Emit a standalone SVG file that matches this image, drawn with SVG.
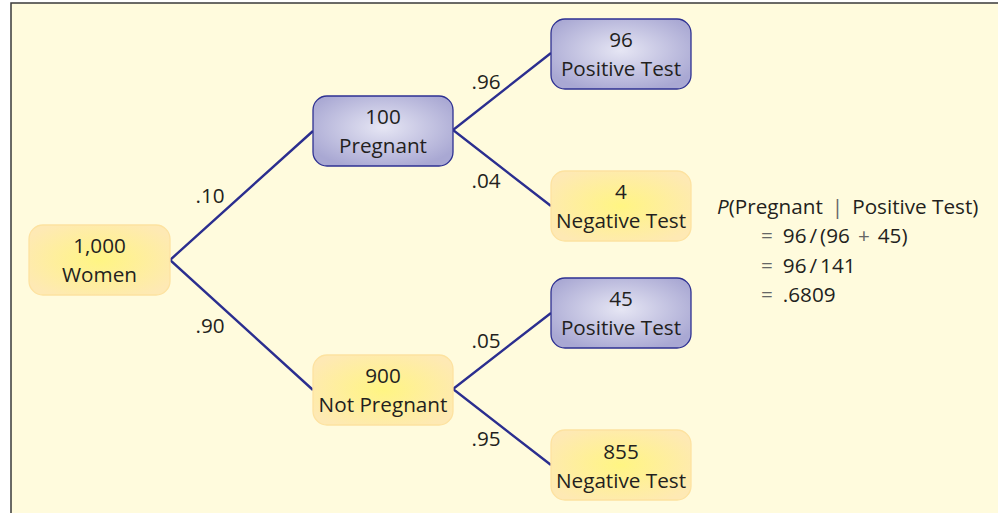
<svg xmlns="http://www.w3.org/2000/svg" width="998" height="513" viewBox="0 0 998 513">
<defs>
<radialGradient id="gBlue" cx="50%" cy="45%" r="60%">
<stop offset="0" stop-color="#e6e6f4"/>
<stop offset="1" stop-color="#a9a8d3"/>
</radialGradient>
<radialGradient id="gYel" cx="50%" cy="50%" r="60%">
<stop offset="0" stop-color="#fff583"/>
<stop offset="1" stop-color="#fee9b4"/>
</radialGradient>
<style>
.t{font-family:"Open Sans","Noto Sans",sans-serif;font-size:20.7px;fill:#231f20;}
.c{text-anchor:middle;}
.blue{fill:url(#gBlue);stroke:#2e3192;stroke-width:1.3;}
.yel{fill:url(#gYel);stroke:#fde2a0;stroke-width:1.3;}
.ln{stroke:#2b2e8f;stroke-width:2.4;fill:none;}
.op{fill:#666;}
</style>
</defs>
<rect x="0" y="0" width="998" height="513" fill="#ffffff"/>
<rect x="11" y="3" width="990" height="515" fill="#fffbdd" stroke="#3a3a3a" stroke-width="1.5"/>
<g id="connectors">
<polyline class="ln" points="313,131 170,260 313,390"/>
<polyline class="ln" points="551,53 453,130 551,206"/>
<polyline class="ln" points="551,313 453,389 551,465"/>
</g>
<g id="probabilities" class="t">
<text x="210" y="203" class="c">.10</text>
<text x="210" y="333" class="c">.90</text>
<text x="486" y="89" class="c">.96</text>
<text x="486" y="188" class="c">.04</text>
<text x="486" y="348" class="c">.05</text>
<text x="486" y="446" class="c">.95</text>
</g>
<g id="women">
<rect class="yel" x="29" y="225" width="141" height="70" rx="14"/>
<text class="t c" x="99.5" y="253">1,000</text>
<text class="t c" x="99.5" y="282">Women</text>
</g>
<g id="pregnant">
<rect class="blue" x="313" y="96" width="140" height="70" rx="14"/>
<text class="t c" x="383" y="124">100</text>
<text class="t c" x="383" y="153">Pregnant</text>
</g>
<g id="notpregnant">
<rect class="yel" x="313" y="355" width="140" height="70" rx="14"/>
<text class="t c" x="383" y="383">900</text>
<text class="t c" x="383" y="412">Not Pregnant</text>
</g>
<g id="pos96">
<rect class="blue" x="551" y="19" width="140" height="70" rx="14"/>
<text class="t c" x="621" y="47">96</text>
<text class="t c" x="621" y="76">Positive Test</text>
</g>
<g id="neg4">
<rect class="yel" x="551" y="171" width="140" height="70" rx="14"/>
<text class="t c" x="621" y="199">4</text>
<text class="t c" x="621" y="228">Negative Test</text>
</g>
<g id="pos45">
<rect class="blue" x="551" y="278" width="140" height="70" rx="14"/>
<text class="t c" x="621" y="306">45</text>
<text class="t c" x="621" y="335">Positive Test</text>
</g>
<g id="neg855">
<rect class="yel" x="551" y="430" width="140" height="70" rx="14"/>
<text class="t c" x="621" y="459">855</text>
<text class="t c" x="621" y="488">Negative Test</text>
</g>
<g id="formula" class="t">
<text x="717" y="214"><tspan font-style="italic">P</tspan>(Pregnant<tspan class="op" dx="9">|</tspan><tspan dx="9">Positive Test)</tspan></text>
<text x="761" y="243"><tspan class="op">=</tspan><tspan dx="10">96</tspan><tspan dx="3">/</tspan><tspan dx="3">(96</tspan><tspan class="op" dx="8">+</tspan><tspan dx="8">45)</tspan></text>
<text x="761" y="273"><tspan class="op">=</tspan><tspan dx="10">96</tspan><tspan dx="3">/</tspan><tspan dx="3">141</tspan></text>
<text x="761" y="302"><tspan class="op">=</tspan><tspan dx="10">.6809</tspan></text>
</g>
</svg>
